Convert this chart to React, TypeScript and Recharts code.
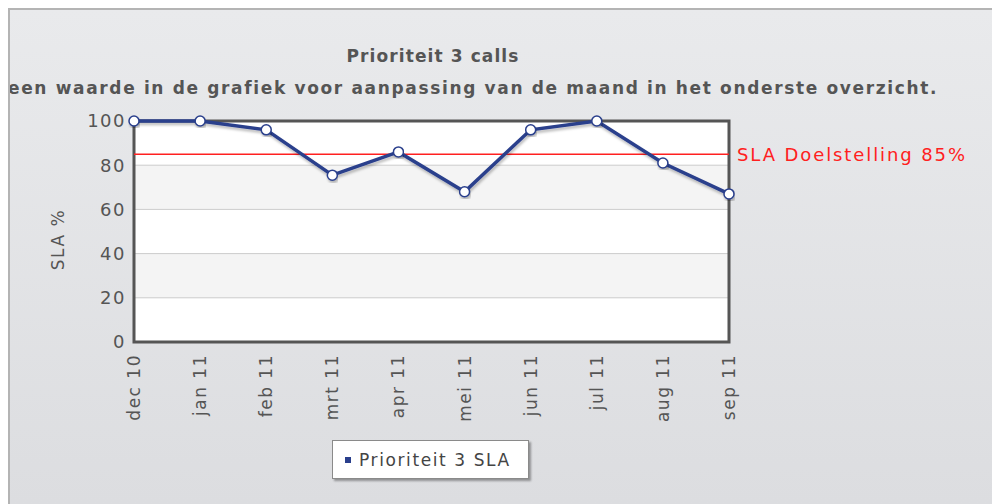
import React from 'react';
import {
  LineChart,
  Line,
  XAxis,
  YAxis,
  CartesianGrid,
  ReferenceLine,
  ReferenceArea,
  Legend,
} from 'recharts';

const months = ['dec 10', 'jan 11', 'feb 11', 'mrt 11', 'apr 11', 'mei 11', 'jun 11', 'jul 11', 'aug 11', 'sep 11'];
const slaValues = [100, 100, 96, 75.5, 86, 68, 96, 100, 81, 67];
const yTicks = [0, 20, 40, 60, 80, 100];
const slaTarget = 85;

const data = months.map((month, i) => ({ month, sla: slaValues[i] }));

const FONT = '"DejaVu Sans", Verdana, sans-serif';
const NAVY = '#2a3f8c';

function MonthTick({ x, y, payload }: { x?: number; y?: number; payload?: { value: string } }) {
  return (
    <text
      x={x}
      y={y}
      dy={6}
      transform={`rotate(-90, ${x}, ${y})`}
      textAnchor="end"
      fill="#555"
      fontSize={17}
      letterSpacing={1.5}
      fontFamily={FONT}
    >
      {payload?.value}
    </text>
  );
}

function LegendBox() {
  return (
    <div
      style={{
        width: 197,
        height: 39,
        boxSizing: 'border-box',
        background: '#fff',
        border: '1px solid #8a8a8a',
        boxShadow: '2px 2px 2px rgba(0,0,0,0.35)',
        display: 'flex',
        alignItems: 'center',
        fontFamily: FONT,
        fontSize: 17,
        letterSpacing: 1.6,
        color: '#444',
      }}
    >
      <span style={{ width: 6, height: 6, background: NAVY, marginLeft: 12, marginRight: 8 }} />
      <span>Prioriteit 3 SLA</span>
    </div>
  );
}

export default function App() {
  return (
    <div
      style={{
        position: 'fixed',
        top: 8,
        left: 8,
        width: 984,
        height: 496,
        boxSizing: 'border-box',
        borderLeft: '2px solid #b4b4b4',
        borderTop: '2px solid #b4b4b4',
        background: 'linear-gradient(#e9eaec, #dcdde0)',
        overflow: 'hidden',
      }}
    >
      <div
        style={{
          position: 'absolute',
          top: 36,
          left: 0,
          width: 846,
          textAlign: 'center',
          fontFamily: FONT,
          fontWeight: 'bold',
          fontSize: 17,
          letterSpacing: 1.1,
          color: '#555',
        }}
      >
        Prioriteit 3 calls
      </div>
      <div
        style={{
          position: 'absolute',
          top: 68,
          left: -2,
          whiteSpace: 'nowrap',
          fontFamily: FONT,
          fontWeight: 'bold',
          fontSize: 17,
          letterSpacing: 1.65,
          color: '#555',
        }}
      >
        een waarde in de grafiek voor aanpassing van de maand in het onderste overzicht.
      </div>
      <svg width={0} height={0} style={{ position: 'absolute' }}>
        <defs>
          <filter id="lineShadow" x="-5%" y="-20%" width="110%" height="140%">
            <feDropShadow dx="1" dy="2.5" stdDeviation="1.2" floodColor="#000" floodOpacity="0.25" />
          </filter>
        </defs>
      </svg>
      <LineChart
        width={982}
        height={494}
        data={data}
        margin={{ top: 111, right: 263, bottom: 63, left: 64 }}
      >
        <CartesianGrid
          vertical={false}
          stroke="#cccccc"
          horizontalFill={['#ffffff', '#f4f4f4']}
          fillOpacity={1}
        />
        <XAxis
          dataKey="month"
          axisLine={false}
          tickLine={false}
          tick={<MonthTick />}
          interval={0}
          height={60}
          tickMargin={6}
        />
        <YAxis
          domain={[0, 100]}
          ticks={yTicks}
          axisLine={false}
          tickLine={false}
          width={60}
          tickMargin={2}
          tick={{ fill: '#555', fontSize: 18, letterSpacing: 1.5, fontFamily: FONT }}
          label={{
            value: 'SLA %',
            angle: -90,
            position: 'insideLeft',
            offset: -16,
            dx: 0,
            dy: 8,
            textAnchor: 'middle',
            fill: '#555',
            fontSize: 17,
            letterSpacing: 1.5,
            fontFamily: FONT,
          }}
        />
        <ReferenceArea
          x1={months[0]}
          x2={months[months.length - 1]}
          y1={0}
          y2={100}
          fill="none"
          stroke="#555555"
          strokeWidth={3}
          ifOverflow="visible"
        />
        <ReferenceLine
          y={slaTarget}
          stroke="#ff2020"
          strokeWidth={1.5}
          label={{
            value: 'SLA Doelstelling 85%',
            position: 'right',
            offset: 8,
            fill: '#ff2020',
            fontSize: 18,
            letterSpacing: 1.9,
            fontFamily: FONT,
          }}
        />
        <Legend
          content={<LegendBox />}
          wrapperStyle={{ left: 322, top: 430, width: 197 }}
        />
        <Line
          type="linear"
          dataKey="sla"
          name="Prioriteit 3 SLA"
          stroke={NAVY}
          strokeWidth={3.5}
          filter="url(#lineShadow)"
          dot={{ r: 5, fill: '#fff', stroke: NAVY, strokeWidth: 1.5 }}
          isAnimationActive={false}
        />
      </LineChart>
    </div>
  );
}
